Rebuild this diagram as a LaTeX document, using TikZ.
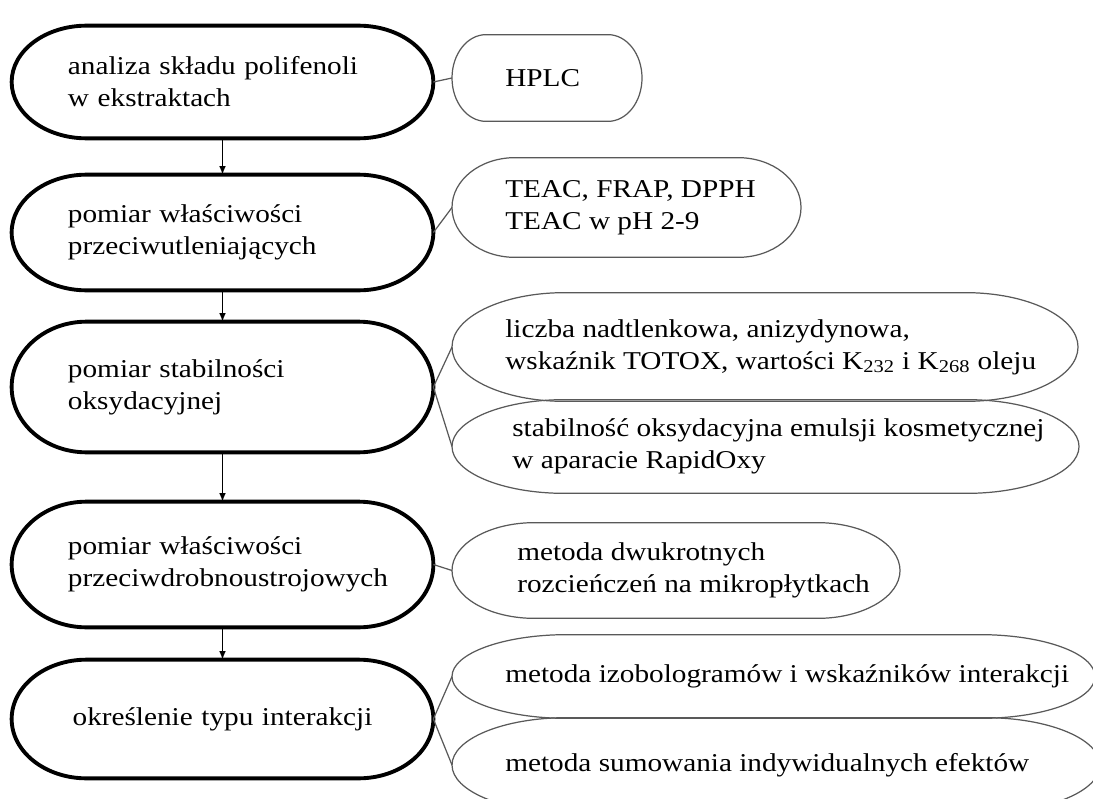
\documentclass[tikz,border=0pt]{standalone}
\usepackage{fontspec}
\setmainfont{Liberation Serif}[FakeStretch=1.14]
\usetikzlibrary{calc}
\usetikzlibrary{arrows}
\hyphenpenalty=10000

\begin{document}
\begin{tikzpicture}[x=0.2mm, y=-0.2mm,
  font=\fontsize{14.6}{18.2}\selectfont,
  stage/.style={inner sep=0pt, minimum width=84.2mm, text width=61.8mm, align=left},
  method/.style={anchor=west, inner ysep=0pt, inner xsep=#1, align=left},
  method/.default=10.6mm,
  flow/.style={black, line width=0.7pt, ->, >=latex},
  link/.style={black!65, line width=0.7pt}]
\useasboundingbox (0,0) rectangle (1093,798);
% etapy badan
\node[stage, minimum height=22.4mm] (b1) at (222.5,82) {analiza składu polifenoli\\w ekstraktach};
\node[stage, minimum height=23mm] (b2) at (222.5,232.5) {pomiar właściwości\\przeciwutleniających};
\node[stage, minimum height=26mm] (b3) at (222.5,387) {pomiar stabilności\\oksydacyjnej};
\node[stage, minimum height=25mm] (b4) at (222.5,564.5) {pomiar właściwości\\przeciwdrobnoustrojowych};
\node[stage, minimum height=23.6mm, align=center] (b5) at (222.5,719) {określenie typu interakcji};
% metody
\node[method, minimum height=17.2mm] (t1) at (452,78) {HPLC};
\node[method, minimum height=19.8mm] (t2) at (452,207.5) {TEAC, FRAP, DPPH\\TEAC w pH 2-9};
\node[method, minimum height=21.6mm] (t3a) at (452,347) {liczba nadtlenkowa, anizydynowa,\\wskaźnik TOTOX, wartości K\textsubscript{232} i K\textsubscript{268} oleju};
\node[method=12mm, minimum height=18.6mm] (t3b) at (452,446.5) {stabilność oksydacyjna emulsji kosmetycznej\\w aparacie RapidOxy};
\node[method=13mm, minimum height=19mm] (t4) at (452,570.5) {metoda dwukrotnych\\rozcieńczeń na mikropłytkach};
\node[method, minimum height=16.6mm] (t5a) at (452,676.5) {metoda izobologramów i wskaźników interakcji};
\node[method, minimum height=18.8mm] (t5b) at (452,765) {metoda sumowania indywidualnych efektów};
% obrysy
\foreach \b in {b1,b2,b3,b4,b5}
  \draw[line width=2.2pt] let \p1=(\b.north west), \p2=(\b.south east), \n1={(\y1-\y2)/2} in
    (\x1+15mm,\y1) -- (\x2-15mm,\y1) arc[start angle=90, end angle=-90, x radius=15mm, y radius=\n1]
    -- (\x1+15mm,\y2) arc[start angle=270, end angle=90, x radius=15mm, y radius=\n1] -- cycle;
\foreach \b/\r/\w in {t1/6.8/38, t2/12.6/69.8, t3a/22.5/125.2, t3b/22.5/125.4, t4/16.5/89.6, t5a/23/128.6, t5b/23/129.6}
  \draw[link] let \p1=(\b.north west), \p2=(\b.south west), \n1={(\y1-\y2)/2} in
    (\x1+\r mm,\y1) -- (\x1+\w mm-\r mm,\y1) arc[start angle=90, end angle=-90, x radius=\r mm, y radius=\n1]
    -- (\x1+\r mm,\y2) arc[start angle=270, end angle=90, x radius=\r mm, y radius=\n1] -- cycle;
% polaczenia
\draw[flow] (b1) -- (b2);
\draw[flow] (b2) -- (b3);
\draw[flow] (b3) -- (b4);
\draw[flow] (b4) -- (b5);
\draw[link] (b1.east) -- (t1.west);
\draw[link] (b2.east) -- (t2.west);
\draw[link] (b3.east) -- (t3a.west);
\draw[link] (b3.east) -- (t3b.west);
\draw[link] (b4.east) -- (t4.west);
\draw[link] (b5.east) -- (t5a.west);
\draw[link] (b5.east) -- (t5b.west);
\end{tikzpicture}
\end{document}
